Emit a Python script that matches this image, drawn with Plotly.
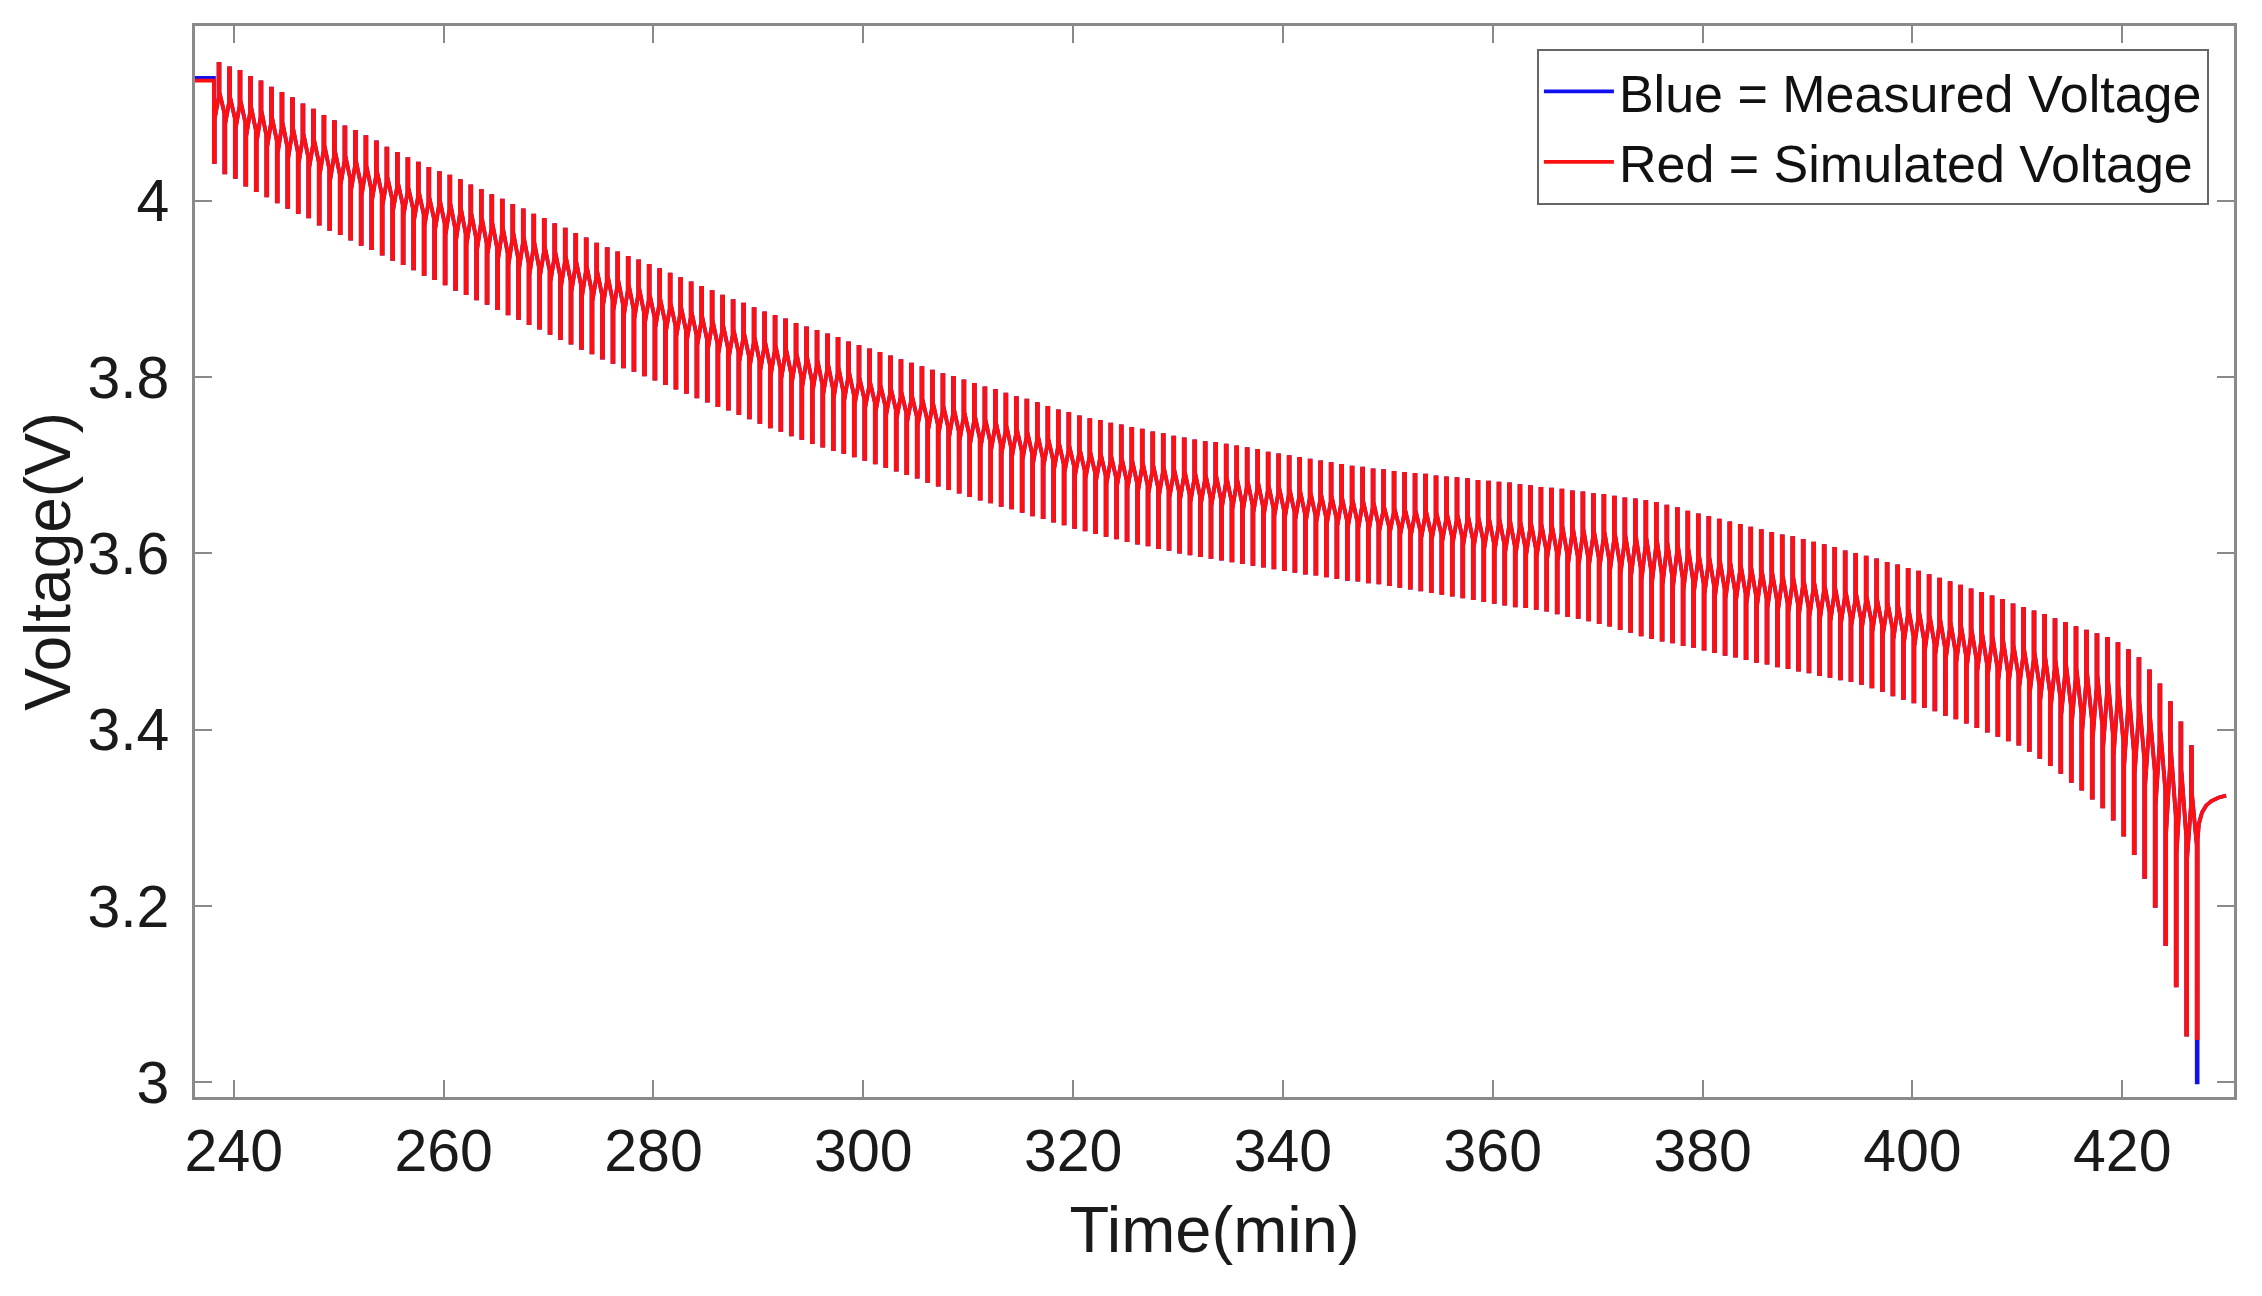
import plotly.graph_objects as go

# ---------------- data (voltages in mV) ----------------
# spike tops of the charge (upward) pulses, one per cycle
top_mv = [
    4155, 4150, 4146, 4139, 4134, 4127, 4121, 4115, 4108, 4102, 4095,
    4089, 4083, 4078, 4072, 4066, 4059, 4053, 4047, 4042, 4036, 4031, 4027,
    4022, 4016, 4011, 4005, 4000, 3994, 3989, 3983, 3978, 3972, 3967, 3961, 3956, 3950, 3945,
    3940, 3935, 3931, 3926, 3921,
    3916, 3911, 3906, 3901, 3896,
    3891, 3886, 3882, 3877, 3872,
    3868, 3864, 3859, 3855, 3851,
    3847, 3843, 3838, 3834, 3830,
    3826, 3822, 3818, 3814, 3810, 3806, 3802, 3799, 3795, 3791,
    3787, 3784, 3780, 3776, 3773, 3769, 3765, 3761, 3758, 3754,
    3751, 3749, 3746, 3744, 3741,
    3739, 3736, 3734, 3731, 3729,
    3727, 3725, 3724, 3722, 3720,
    3718, 3716, 3713, 3711, 3709,
    3707, 3705, 3703, 3701, 3699,
    3697, 3696, 3694, 3693, 3691,
    3690, 3689, 3688, 3686, 3685,
    3684, 3683, 3681, 3680, 3679,
    3678, 3676, 3675, 3673, 3672,
    3671, 3669, 3668, 3666, 3665,
    3663, 3661, 3660, 3658, 3656,
    3653, 3650, 3646, 3643, 3640,
    3637, 3634, 3631, 3628, 3625,
    3622, 3619, 3617, 3614, 3611,
    3608, 3605, 3601, 3598, 3595,
    3592, 3588, 3585, 3581, 3578,
    3574, 3570, 3566, 3562, 3558,
    3554, 3550, 3546, 3541, 3537,
    3533, 3529, 3524, 3520,
    3515, 3511, 3507, 3503, 3497, 3489, 3480, 3466, 3450, 3430, 3407, 3380,
]

# spike bottoms of the discharge (downward) pulses, one per cycle
bottom_mv = [
    4044, 4032, 4027, 4018, 4012, 4006, 3999, 3993, 3987, 3982, 3974, 3968,
    3963, 3957, 3951, 3946, 3940, 3934, 3929, 3923, 3917, 3912, 3906,
    3900, 3895, 3889, 3884, 3878, 3872, 3867, 3861, 3856, 3850, 3844, 3839, 3833, 3828, 3822,
    3817, 3812, 3808, 3803, 3798,
    3793, 3788, 3783, 3778, 3773,
    3768, 3764, 3759, 3754, 3749,
    3744, 3740, 3735, 3731, 3726,
    3722, 3718, 3715, 3711, 3707,
    3703, 3699, 3695, 3691, 3687, 3682, 3678, 3674, 3670, 3666,
    3662, 3659, 3655, 3652, 3648, 3644, 3641, 3637, 3634, 3630,
    3627, 3624, 3621, 3618, 3615,
    3612, 3610, 3607, 3605, 3602,
    3600, 3598, 3596, 3594, 3592,
    3590, 3588, 3586, 3584, 3582,
    3580, 3578, 3577, 3575, 3573,
    3571, 3570, 3568, 3567, 3565,
    3563, 3561, 3559, 3557, 3555,
    3553, 3551, 3549, 3547, 3545,
    3543, 3541, 3540, 3538, 3536,
    3533, 3530, 3528, 3525, 3522,
    3519, 3515, 3512, 3508, 3505,
    3502, 3500, 3497, 3495, 3492,
    3489, 3486, 3484, 3481, 3478,
    3476, 3473, 3471, 3468, 3466,
    3463, 3461, 3458, 3456, 3453,
    3449, 3445, 3440, 3436, 3432,
    3427, 3423, 3418, 3414, 3409,
    3404, 3399, 3394, 3389, 3384,
    3377, 3369, 3361, 3352,
    3342, 3333, 3323, 3313, 3299, 3281, 3260, 3233, 3200, 3157, 3110, 3054, 3050,
]

# upper edge of the dense band (level right after each charge pulse)
band_hi_mv = [
    4123, 4118, 4114, 4107, 4102, 4095, 4089, 4083, 4076, 4070, 4063, 4057, 4051, 4046, 4040,
    4034, 4027, 4021, 4015, 4010, 4004,
    4001, 3997, 3992, 3986, 3981, 3975, 3970, 3964, 3959, 3953, 3948, 3942, 3937, 3931, 3926,
    3920, 3915, 3910, 3905, 3901,
    3894, 3889, 3884, 3879, 3874, 3869, 3864, 3859, 3854, 3850, 3845, 3840, 3836, 3832, 3827,
    3823, 3819, 3815, 3811, 3806,
    3799, 3795, 3791, 3787, 3783, 3779, 3775, 3771, 3767, 3764, 3760, 3756, 3752, 3749, 3745,
    3741, 3738, 3734, 3730, 3726,
    3722, 3718, 3715, 3713, 3710, 3708, 3705, 3703, 3700, 3698, 3695, 3693, 3691, 3689, 3688,
    3686, 3684, 3682, 3680, 3677, 3675, 3673, 3671, 3669, 3667, 3665, 3663, 3661, 3660, 3658,
    3653, 3651, 3650, 3649, 3648, 3646, 3645, 3644, 3643, 3641, 3640, 3639, 3638, 3636, 3635,
    3633, 3632, 3631, 3629, 3628, 3626, 3625, 3623, 3621, 3620, 3618, 3616, 3613, 3610, 3606,
    3599, 3596, 3593, 3590, 3587, 3584, 3581, 3578, 3575, 3573, 3570, 3567, 3564, 3561, 3557,
    3554, 3551, 3548, 3544, 3541, 3537, 3534, 3530, 3526, 3522, 3518, 3514, 3510, 3506, 3502,
    3496, 3492, 3488, 3484, 3479, 3475, 3470, 3466, 3462, 3458,
    3450, 3441, 3431, 3417, 3400, 3379, 3355, 3329,
]

# lower edge of the dense band (level right after each discharge pulse)
band_lo_mv = [
    4093,
    4087, 4082, 4073, 4067, 4061, 4054, 4048, 4042, 4037, 4029, 4023, 4018, 4012, 4006, 4001,
    3995, 3989, 3984, 3978, 3972, 3967, 3961, 3955, 3950, 3944, 3939, 3933, 3927, 3922, 3916,
    3914, 3908, 3902, 3897, 3891, 3886, 3880, 3875, 3870, 3866,
    3861, 3856, 3851, 3846, 3841, 3836, 3831, 3826, 3822, 3817,
    3812, 3807, 3802, 3798, 3793, 3789, 3784, 3780, 3776, 3773,
    3769, 3765, 3761, 3757, 3753, 3749, 3745, 3740, 3736, 3732,
    3728, 3724, 3720, 3717, 3713, 3710, 3706, 3702, 3699, 3695,
    3692, 3688, 3685, 3682, 3679, 3676, 3673, 3670, 3668, 3665,
    3663, 3660, 3658, 3656, 3654, 3652, 3650, 3648, 3646, 3644,
    3642, 3640, 3638, 3636, 3635, 3633, 3631, 3629, 3628, 3626,
    3625, 3623, 3621, 3619, 3617, 3615, 3613, 3611, 3609, 3607,
    3605, 3603, 3601, 3599, 3598, 3596, 3594, 3591, 3588, 3586,
    3587, 3584, 3581, 3577, 3574, 3570, 3567, 3564, 3562, 3559,
    3557, 3554, 3551, 3548, 3546, 3543, 3540, 3538, 3535, 3533,
    3530, 3528, 3525, 3523, 3520, 3518, 3515, 3511, 3507, 3502,
    3498, 3494, 3489, 3485, 3480, 3476, 3471, 3466, 3461, 3456,
    3453, 3448, 3441, 3433, 3425, 3416, 3406, 3398, 3389, 3380,
    3371, 3359, 3350, 3337, 3315, 3283, 3260, 3254,
]

# relaxation after the final (cut-off) discharge pulse
recovery_t = [427.18, 427.3, 427.6, 428.0, 428.5, 429.2, 429.9]
recovery_mv = [3275, 3293, 3306, 3314, 3319, 3323, 3325]

rest_start_t = 236.3        # min, start of record
first_pulse_t = 238.1       # min, first discharge pulse
pulse_period = 1.0          # min between discharge pulses
charge_delay = 0.45         # min from discharge pulse to charge pulse
pulse_width = 0.08          # min
relax_frac = 0.8            # how far the voltage relaxes across the band

measured_rest_mv = 4139
simulated_rest_mv = 4136
measured_last_bottom_mv = 3000

x_ticks = [240, 260, 280, 300, 320, 340, 360, 380, 400, 420]
y_ticks = [3.0, 3.2, 3.4, 3.6, 3.8, 4.0]
y_tick_text = ["3", "3.2", "3.4", "3.6", "3.8", "4"]


def pulse_trace(rest_mv, last_bottom_mv):
    xs = [rest_start_t, first_pulse_t]
    ys = [rest_mv, rest_mv]
    level = rest_mv
    n = len(bottom_mv)
    for i in range(n):
        t0 = first_pulse_t + i * pulse_period
        b = bottom_mv[i] if i < n - 1 else last_bottom_mv
        if i > 0:
            xs.append(t0)
            ys.append(level)
        xs += [t0, t0 + pulse_width]
        ys += [b, b]
        if i < len(top_mv):
            lo, hi = band_lo_mv[i], band_hi_mv[i]
            span = hi - lo
            tu = t0 + charge_delay
            xs += [t0 + pulse_width, tu, tu, tu + pulse_width, tu + pulse_width]
            ys += [lo, lo + relax_frac * span, top_mv[i], top_mv[i], hi]
            level = hi - relax_frac * span
    xs += recovery_t
    ys += recovery_mv
    return xs, [v / 1000.0 for v in ys]


mx, my = pulse_trace(measured_rest_mv, measured_last_bottom_mv)
sx, sy = pulse_trace(simulated_rest_mv, bottom_mv[-1])

fig = go.Figure()
fig.add_trace(go.Scatter(x=mx, y=my, mode="lines", name="Blue = Measured Voltage",
                         line=dict(color="#1010f0", width=3.8)))
fig.add_trace(go.Scatter(x=sx, y=sy, mode="lines", name="Red = Simulated Voltage",
                         line=dict(color="#ff1010", width=3.8)))

axis_line = "#8a8a8a"
fig.update_layout(
    width=2262, height=1296,
    margin=dict(l=195, r=28, t=26, b=199),
    paper_bgcolor="white", plot_bgcolor="white",
    font=dict(family="Liberation Sans, Arial, sans-serif", color="#1a1a1a", size=59),
    showlegend=True,
    legend=dict(x=0.9877, y=0.9785, xanchor="right", yanchor="top",
                bgcolor="white", bordercolor="#666666", borderwidth=2,
                font=dict(size=52, color="#111111"), itemwidth=70,
                tracegroupgap=0),
    annotations=[dict(text="Voltage(V)", textangle=-90, xref="paper", yref="paper",
                      x=-0.0725, y=0.5, xanchor="center", yanchor="middle",
                      showarrow=False, font=dict(size=64, color="#1a1a1a"))],
)
fig.update_xaxes(range=[236.3, 430.65], tickmode="array", tickvals=x_ticks,
                 ticks="inside", ticklen=17, tickwidth=2, tickcolor=axis_line,
                 showline=True, linecolor=axis_line, linewidth=2.5, mirror="ticks",
                 showgrid=False, zeroline=False, ticklabelstandoff=0,
                 title=dict(text="Time(min)", font=dict(size=65), standoff=24),
                 automargin=False)
fig.update_yaxes(range=[2.9833, 4.198], tickmode="array", tickvals=y_ticks,
                 ticktext=y_tick_text,
                 ticks="inside", ticklen=17, tickwidth=2, tickcolor=axis_line,
                 showline=True, linecolor=axis_line, linewidth=2.5, mirror="ticks",
                 showgrid=False, zeroline=False, ticklabelstandoff=11,
                 automargin=False)

fig.write_html("out.html", config={"displayModeBar": False},
               post_script="document.body.style.margin='0';document.body.style.padding='0';")
